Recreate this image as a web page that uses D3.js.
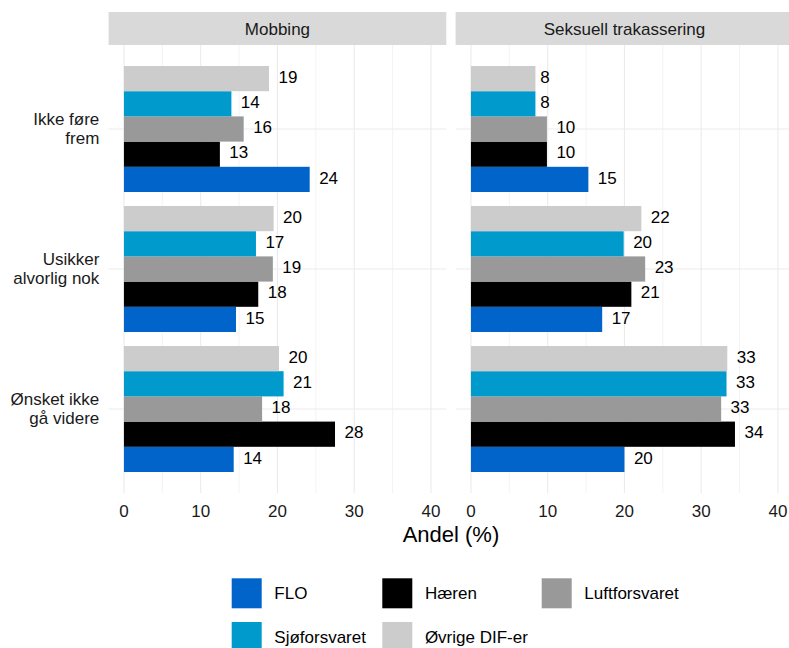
<!DOCTYPE html>
<html><head><meta charset="utf-8">
<script src="https://cdn.jsdelivr.net/npm/d3@7/dist/d3.min.js"></script>
<style>body{margin:0;background:#fff}svg{display:block;font-family:"Liberation Sans",Arial,sans-serif}</style>
</head><body><div id="chart"></div>
<script>
const facets = ["Mobbing", "Seksuell trakassering"];
const categories = ["Ikke føre frem", "Usikker alvorlig nok", "Ønsket ikke gå videre"];
const categoryLines = [["Ikke føre", "frem"], ["Usikker", "alvorlig nok"], ["Ønsket ikke", "gå videre"]];
const series = ["FLO", "Hæren", "Luftforsvaret", "Sjøforsvaret", "Øvrige DIF-er"];
const colors = ["#0064CA", "#000000", "#999999", "#009ACD", "#CCCCCC"];
// values[facet][category][series]
const mobbing = [
  [24.2, 12.5, 15.6, 14.0, 18.9],
  [14.6, 17.5, 19.4, 17.2, 19.5],
  [14.3, 27.5, 18.0, 20.8, 20.2]
];
const seksuell = [
  [15.3, 9.9, 9.9, 8.4, 8.4],
  [17.1, 20.9, 22.7, 19.9, 22.2],
  [20.0, 34.4, 32.6, 33.3, 33.4]
];
const values = [mobbing, seksuell];
const xTicks = [0, 10, 20, 30, 40];
const xMinor = [5, 15, 25, 35];

const W = 789, H = 648;
const svg = d3.select("#chart").append("svg").attr("width", W).attr("height", H);
const panelW = 337.7, panelTop = 45, panelBottom = 493, stripTop = 12;
const panelX0 = [108.6, 455.6];
const txt = "#1a1a1a";

const y = d3.scalePoint().domain(categories).range([panelTop, panelBottom]).padding(0.6);
const inner = d3.scaleBand().domain(series.slice().reverse()).range([-63, 63]);

facets.forEach((f, fi) => {
  const x = d3.scaleLinear().domain([-2, 42]).range([panelX0[fi], panelX0[fi] + panelW]);
  const g = svg.append("g");
  // strip
  g.append("rect").attr("x", panelX0[fi]).attr("y", stripTop).attr("width", panelW).attr("height", panelTop - stripTop).attr("fill", "#D9D9D9");
  g.append("text").attr("x", panelX0[fi] + panelW / 2).attr("y", 34.5).attr("text-anchor", "middle")
    .attr("font-size", 17).attr("fill", txt).text(f);
  // grid
  g.selectAll(".minor").data(xMinor).join("line").attr("x1", d => x(d)).attr("x2", d => x(d))
    .attr("y1", panelTop).attr("y2", panelBottom).attr("stroke", "#EBEBEB").attr("stroke-width", 0.6);
  g.selectAll(".major").data(xTicks).join("line").attr("x1", d => x(d)).attr("x2", d => x(d))
    .attr("y1", panelTop).attr("y2", panelBottom).attr("stroke", "#EBEBEB").attr("stroke-width", 1.1);
  g.selectAll(".hgrid").data(categories).join("line").attr("x1", panelX0[fi]).attr("x2", panelX0[fi] + panelW)
    .attr("y1", d => y(d)).attr("y2", d => y(d)).attr("stroke", "#EBEBEB").attr("stroke-width", 1.1);
  // bars
  categories.forEach((c, ci) => {
    series.forEach((s, si) => {
      const v = values[fi][ci][si];
      const by = y(c) + inner(s);
      g.append("rect").attr("x", x(0)).attr("y", by).attr("width", x(v) - x(0)).attr("height", inner.bandwidth())
        .attr("fill", colors[si]);
      const t = g.append("text").attr("y", by + inner.bandwidth() / 2 + 4.1)
        .attr("font-size", 17).attr("fill", "#000").text(Math.round(v));
      const tw = t.node().getComputedTextLength();
      t.attr("x", x(v) + tw * 0.5);
    });
  });
  // ticks
  g.selectAll(".tick").data(xTicks).join("text").attr("x", d => x(d)).attr("y", 516.5)
    .attr("text-anchor", "middle").attr("font-size", 17).attr("fill", txt).text(d => d);
});

// category labels
categories.forEach((c, ci) => {
  const lines = categoryLines[ci];
  lines.forEach((l, li) => {
    svg.append("text").attr("x", 99.3).attr("y", y(c) + (li - (lines.length - 1) / 2) * 19 + 5.5)
      .attr("text-anchor", "end").attr("font-size", 17).attr("fill", txt).text(l);
  });
});

// axis title
svg.append("text").attr("x", (panelX0[0] + panelX0[1] + panelW) / 2).attr("y", 541.5)
  .attr("text-anchor", "middle").attr("font-size", 22).attr("fill", "#000").text("Andel (%)");

// legend
const legX = [231.7, 382.3, 541.7];
const legY = [578.3, 622];
series.forEach((s, si) => {
  const col = si % 3, row = Math.floor(si / 3);
  svg.append("rect").attr("x", legX[col]).attr("y", legY[row]).attr("width", 30).attr("height", 30).attr("fill", colors[si]);
  svg.append("text").attr("x", legX[col] + 42.6).attr("y", legY[row] + 15).attr("dy", "0.36em")
    .attr("font-size", 17).attr("fill", "#000").text(s);
});
</script></body></html>
